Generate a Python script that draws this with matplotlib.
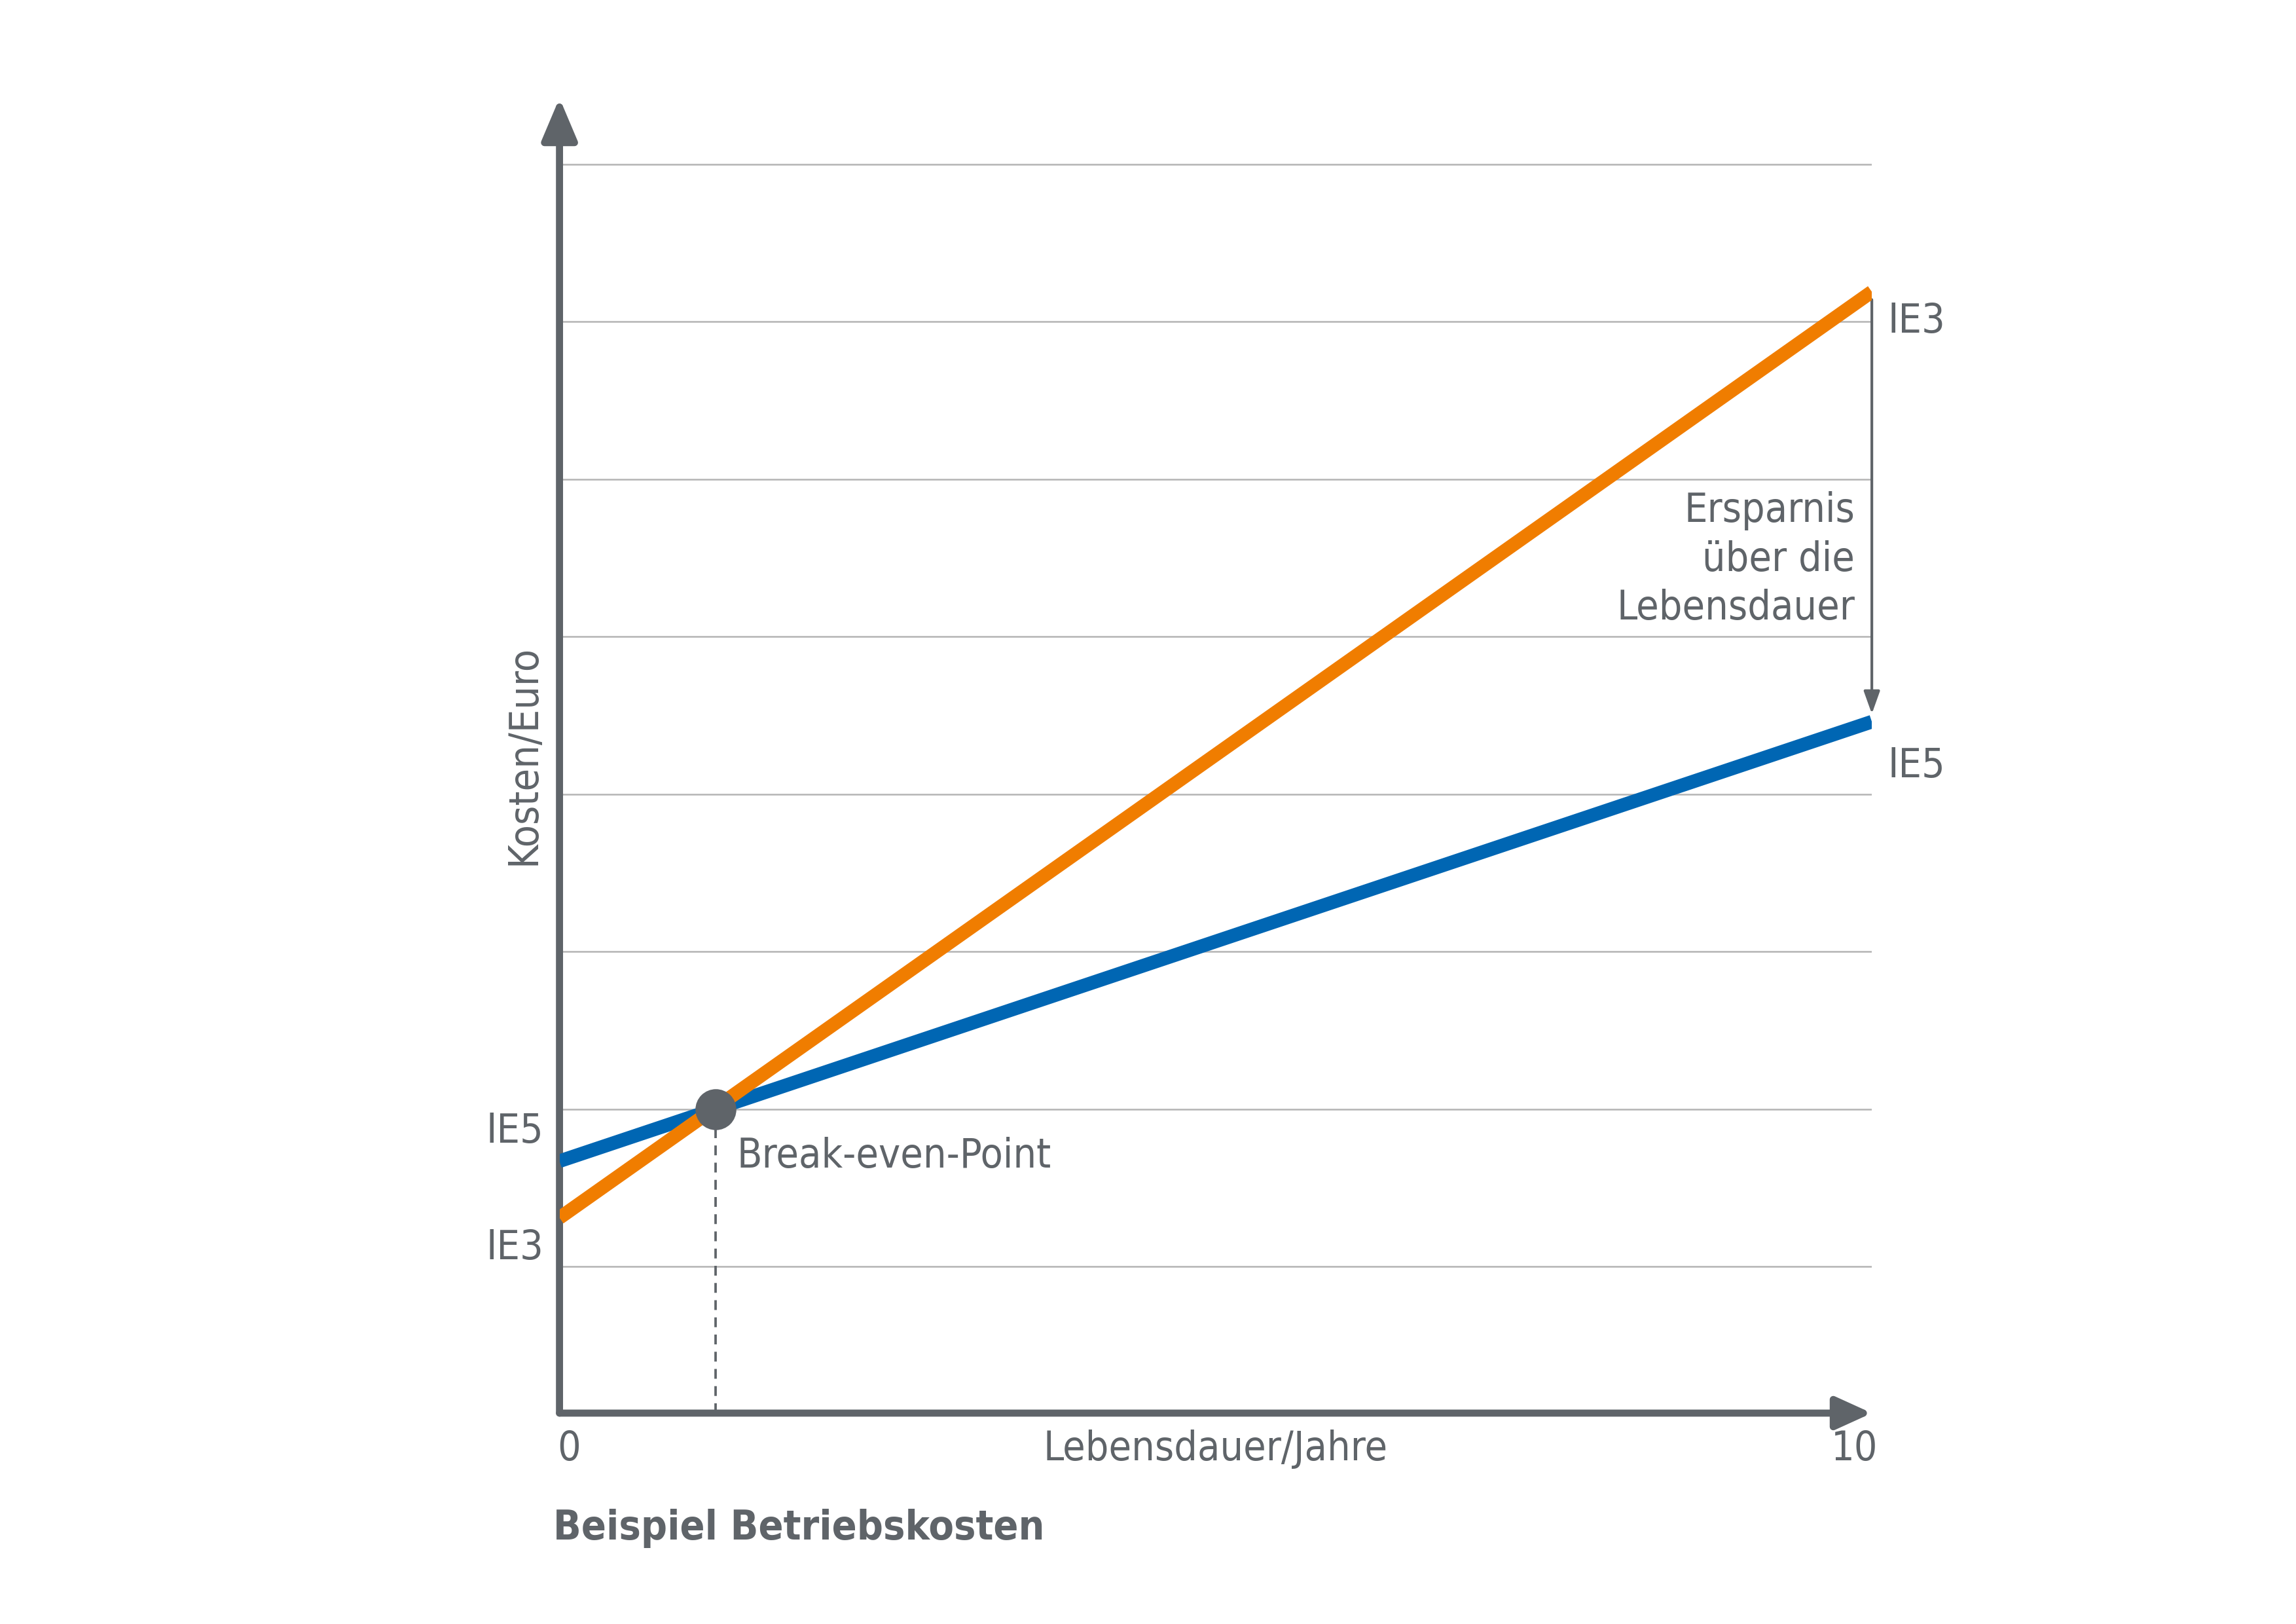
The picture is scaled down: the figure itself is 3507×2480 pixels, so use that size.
import matplotlib
matplotlib.use('Agg')
import matplotlib.pyplot as plt

plt.rcParams['font.family'] = ['DejaVu Sans']
plt.rcParams['font.stretch'] = 'condensed'

# Daten (Rasterlinien = Einheiten)
jahre = [0, 10]
ie5 = [1.67, 4.46]
ie3 = [1.31, 7.19]
break_even_x = 1.19
break_even_y = 2.0
raster = [1, 2, 3, 4, 5, 6, 7, 8]

grau = '#5f6469'
blau = '#0066b3'
orange = '#f07d00'

W, H = 1568, 1109
fig = plt.figure(figsize=(11.693, 8.267), dpi=300)
ax = fig.add_axes([382 / W, (H - 965) / H, (1278 - 382) / W, (965 - 67) / H])
ax.set_xlim(0, 10)
ax.set_ylim(0.07, 8.42)
ax.axis('off')

# Rasterlinien
for r in raster:
    ax.plot([0, 10], [r, r], color='#b4b4b4', lw=0.6, zorder=1)

# Achsen mit Pfeilen
ax.annotate('', xy=(0, 1), xytext=(0, 0), xycoords='axes fraction',
            arrowprops=dict(arrowstyle='-|>,head_length=1.3,head_width=0.55',
                            color=grau, lw=2.6, shrinkA=0, shrinkB=0), annotation_clip=False)
ax.annotate('', xy=(1, 0), xytext=(0, 0), xycoords='axes fraction',
            arrowprops=dict(arrowstyle='-|>,head_length=1.1,head_width=0.5',
                            color=grau, lw=2.6, shrinkA=0, shrinkB=0), annotation_clip=False)

# Linien
ax.plot(jahre, ie5, color=blau, lw=5.0, solid_capstyle='butt', zorder=3)
ax.plot(jahre, ie3, color=orange, lw=5.0, solid_capstyle='butt', zorder=4)

# Break-even
ax.plot([break_even_x, break_even_x], [0.07, break_even_y], color=grau, lw=0.9,
        ls=(0, (4, 3)), zorder=2)
ax.plot(break_even_x, break_even_y, 'o', color=grau, ms=14, zorder=5)
ax.text(break_even_x + 0.16, break_even_y - 0.3, 'Break-even-Point', color=grau,
        fontsize=15, va='center', ha='left')

# Ersparnis-Pfeil
ax.annotate('', xy=(10, ie5[1] + 0.05), xytext=(10, ie3[1] - 0.05),
            arrowprops=dict(arrowstyle='-|>,head_length=0.7,head_width=0.25',
                            color=grau, lw=1.0, shrinkA=0, shrinkB=0))
ax.text(9.87, 5.49, 'Ersparnis\nüber die\nLebensdauer', color=grau, fontsize=15,
        ha='right', va='center', linespacing=1.3)

# Beschriftungen
ax.text(10.12, 7.0, 'IE3', color=grau, fontsize=15, ha='left', va='center')
ax.text(10.12, 4.18, 'IE5', color=grau, fontsize=15, ha='left', va='center')
ax.text(-0.12, 1.86, 'IE5', color=grau, fontsize=15, ha='right', va='center')
ax.text(-0.12, 1.12, 'IE3', color=grau, fontsize=15, ha='right', va='center')
ax.text(-0.27, 4.25, 'Kosten/Euro', color=grau, fontsize=15, ha='center', va='center',
        rotation=90)
ax.text(0.07, -0.16, '0', color=grau, fontsize=15, ha='center', va='center')
ax.text(9.87, -0.16, '10', color=grau, fontsize=15, ha='center', va='center')
ax.text(5.0, -0.16, 'Lebensdauer/Jahre', color=grau, fontsize=15, ha='center', va='center')
ax.text(-0.05, -0.66, 'Beispiel Betriebskosten', color=grau, fontsize=15,
        fontweight='bold', ha='left', va='center')

fig.savefig('out.png', dpi=300)
